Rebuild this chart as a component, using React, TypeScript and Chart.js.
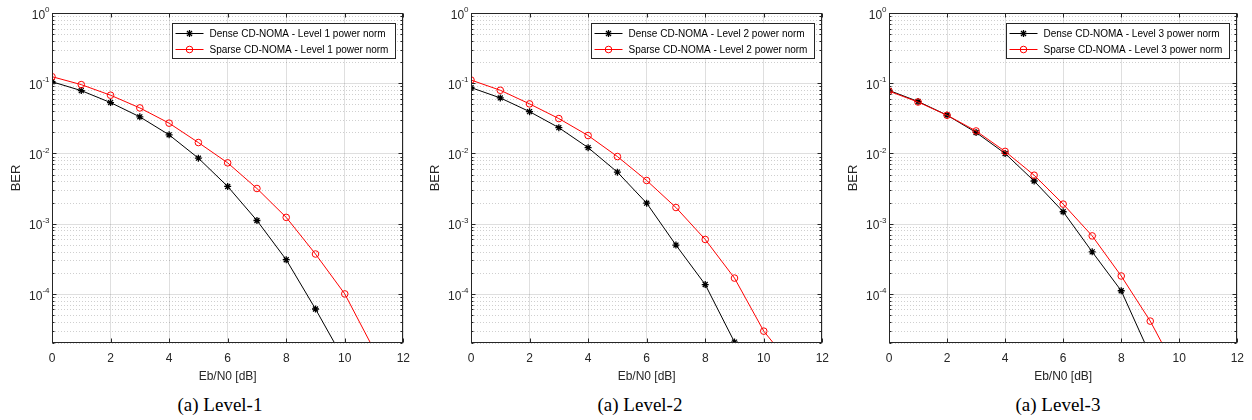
import React, { useEffect, useRef } from 'react';
import { Chart, registerables } from 'chart.js';

Chart.register(...registerables);

// ---------- data ----------
const EBN0 = [0, 1, 2, 3, 4, 5, 6, 7, 8, 9, 10, 11];

const DENSE_L1 = [0.105, 0.0785, 0.053, 0.0332, 0.0184, 0.00857, 0.00339, 0.00111, 3.07e-4, 6.1e-5, 1.1e-5];
const SPARSE_L1 = [0.124, 0.0955, 0.0675, 0.0445, 0.027, 0.0143, 0.00735, 0.00317, 0.00123, 3.7e-4, 1.0e-4, 1.6e-5];

const DENSE_L2 = [0.0867, 0.0618, 0.0394, 0.0233, 0.0121, 0.00542, 0.00196, 4.96e-4, 1.36e-4, 2.06e-5];
const SPARSE_L2 = [0.111, 0.0794, 0.0508, 0.0314, 0.018, 0.00904, 0.00412, 0.0017, 5.96e-4, 1.68e-4, 2.95e-5, 9e-6];

const DENSE_L3 = [0.079, 0.055, 0.0351, 0.0199, 0.01, 0.00405, 0.00148, 3.97e-4, 1.11e-4, 1.35e-5];
const SPARSE_L3 = [0.077, 0.054, 0.035, 0.0209, 0.0107, 0.0049, 0.0019, 6.7e-4, 1.8e-4, 4.1e-5, 6.9e-6];

const X_TICKS = [0, 2, 4, 6, 8, 10, 12];
const X_MIN = 0;
const X_MAX = 12;
const Y_MIN = 2e-5;
const Y_MAX = 1;

const LEVELS = [1, 2, 3];
const DENSE_SERIES = [DENSE_L1, DENSE_L2, DENSE_L3];
const SPARSE_SERIES = [SPARSE_L1, SPARSE_L2, SPARSE_L3];
const CAPTIONS = ['(a) Level-1', '(a) Level-2', '(a) Level-3'];
const X_TITLE = 'Eb/N0 [dB]';
const Y_TITLE = 'BER';

// ---------- styles ----------
const SANS = '"Liberation Sans", Arial, Helvetica, sans-serif';
const SERIF = '"Liberation Serif", "Times New Roman", Times, serif';
const AXIS = '#262626';
const GRID_MAJOR = 'rgba(38,38,38,0.15)';
const GRID_MINOR = 'rgba(38,38,38,0.22)';
const RED = '#ff0000';
const BLACK = '#000000';

function drawStar(ctx: CanvasRenderingContext2D, x: number, y: number, r: number) {
  for (const deg of [0, 45, 90, 135]) {
    const a = (deg * Math.PI) / 180;
    const dx = Math.cos(a) * r;
    const dy = Math.sin(a) * r;
    ctx.beginPath();
    ctx.moveTo(x - dx, y - dy);
    ctx.lineTo(x + dx, y + dy);
    ctx.stroke();
  }
}

function decadeRange() {
  return [Math.floor(Math.log10(Y_MIN)), Math.ceil(Math.log10(Y_MAX))];
}

const framePlugin = {
  id: 'matlabFrame',
  beforeDatasetsDraw(chart: any) {
    const { ctx, chartArea: a, scales } = chart;
    const ys = scales.y;
    const [e0, e1] = decadeRange();
    ctx.save();
    ctx.lineWidth = 1;
    for (let e = e0; e <= e1; e++) {
      for (let k = 1; k <= 9; k++) {
        const v = k * Math.pow(10, e);
        if (v < Y_MIN * 0.9999 || v > Y_MAX * 1.0001) continue;
        const py = Math.round(ys.getPixelForValue(v)) + 0.5;
        ctx.beginPath();
        if (k === 1) {
          ctx.setLineDash([]);
          ctx.strokeStyle = GRID_MAJOR;
        } else {
          ctx.setLineDash([1, 2]);
          ctx.strokeStyle = GRID_MINOR;
        }
        ctx.moveTo(a.left, py);
        ctx.lineTo(a.right, py);
        ctx.stroke();
      }
    }
    ctx.restore();
  },
  afterDraw(chart: any) {
    const { ctx, chartArea: a, scales } = chart;
    const ys = scales.y;
    const xs = scales.x;
    const [e0, e1] = decadeRange();
    ctx.save();
    ctx.setLineDash([]);
    ctx.strokeStyle = AXIS;
    ctx.lineWidth = 1;
    const L = Math.round(a.left) + 0.5;
    const R = Math.round(a.right) - 0.5;
    const T = Math.round(a.top) + 0.5;
    const B = Math.round(a.bottom) - 0.5;
    ctx.strokeRect(L, T, R - L, B - T);

    // y ticks (inward, both sides)
    for (let e = e0; e <= e1; e++) {
      for (let k = 1; k <= 9; k++) {
        const v = k * Math.pow(10, e);
        if (v < Y_MIN * 0.9999 || v > Y_MAX * 1.0001) continue;
        const py = Math.round(ys.getPixelForValue(v)) + 0.5;
        const len = k === 1 ? 4 : 2;
        ctx.beginPath();
        ctx.moveTo(L, py);
        ctx.lineTo(L + len, py);
        ctx.moveTo(R, py);
        ctx.lineTo(R - len, py);
        ctx.stroke();
      }
    }
    // x ticks (inward, top & bottom)
    for (const t of X_TICKS) {
      const px = Math.round(xs.getPixelForValue(t)) + 0.5;
      ctx.beginPath();
      ctx.moveTo(px, B);
      ctx.lineTo(px, B - 4);
      ctx.moveTo(px, T);
      ctx.lineTo(px, T + 4);
      ctx.stroke();
    }

    // y tick labels 10^e
    ctx.fillStyle = AXIS;
    ctx.textBaseline = 'middle';
    for (let e = e0; e <= e1; e++) {
      const v = Math.pow(10, e);
      if (v < Y_MIN * 0.9999 || v > Y_MAX * 1.0001) continue;
      const py = ys.getPixelForValue(v);
      const exp = String(e);
      ctx.font = `8px ${SANS}`;
      const wExp = ctx.measureText(exp).width;
      const xr = a.left - 2.5;
      ctx.textAlign = 'left';
      ctx.fillText(exp, xr - wExp, py - 3);
      ctx.font = `12px ${SANS}`;
      ctx.textAlign = 'right';
      ctx.fillText('10', xr - wExp, py + 2.5);
    }

    // legend
    const ds = chart.data.datasets;
    ctx.font = `10px ${SANS}`;
    let tw = 0;
    for (const d of ds) tw = Math.max(tw, ctx.measureText(d.label).width);
    const boxW = Math.round(3 + 28 + 6 + tw + 7);
    const boxH = 35;
    const bx = Math.round(a.right - 8.5 - boxW) + 0.5;
    const by = Math.round(a.top + 10) + 0.5;
    ctx.fillStyle = '#ffffff';
    ctx.fillRect(bx, by, boxW, boxH);
    ctx.strokeStyle = AXIS;
    ctx.strokeRect(bx, by, boxW, boxH);
    ds.forEach((d: any, i: number) => {
      const ry = by + 10 + i * 16;
      ctx.strokeStyle = d.borderColor;
      ctx.lineWidth = 1;
      ctx.beginPath();
      ctx.moveTo(bx + 3, ry);
      ctx.lineTo(bx + 31, ry);
      ctx.stroke();
      const mx = bx + 17;
      if (d.pointStyle === 'star') {
        ctx.lineWidth = 1.3;
        drawStar(ctx, mx, ry, 3.5);
      } else {
        ctx.beginPath();
        ctx.arc(mx, ry, 3.3, 0, Math.PI * 2);
        ctx.stroke();
      }
      ctx.fillStyle = '#000000';
      ctx.textAlign = 'left';
      ctx.textBaseline = 'middle';
      ctx.fillText(d.label, bx + 37, ry + 0.5);
    });
    ctx.restore();
  },
};

type PanelProps = {
  level: number;
  dense: number[];
  sparse: number[];
  left: number;
  width: number;
  padRight: number;
};

function Panel({ level, dense, sparse, left, width, padRight }: PanelProps) {
  const ref = useRef<HTMLCanvasElement>(null);
  useEffect(() => {
    const canvas = ref.current;
    if (!canvas) return;
    const chart = new Chart(canvas, {
      type: 'line',
      data: {
        datasets: [
          {
            label: `Dense CD-NOMA - Level ${level} power norm`,
            data: dense.map((y, i) => ({ x: EBN0[i], y })),
            borderColor: BLACK,
            backgroundColor: BLACK,
            borderWidth: 1,
            pointStyle: 'star',
            pointRadius: 3.5,
            pointBorderWidth: 1.3,
            pointBorderColor: BLACK,
            pointBackgroundColor: BLACK,
            tension: 0,
            order: 1,
          },
          {
            label: `Sparse CD-NOMA - Level ${level} power norm`,
            data: sparse.map((y, i) => ({ x: EBN0[i], y })),
            borderColor: RED,
            backgroundColor: 'rgba(0,0,0,0)',
            borderWidth: 1,
            pointStyle: 'circle',
            pointRadius: 3.3,
            pointBorderWidth: 1,
            pointBorderColor: RED,
            pointBackgroundColor: 'rgba(0,0,0,0)',
            tension: 0,
            order: 0,
          },
        ],
      } as any,
      options: {
        animation: false,
        responsive: false,
        devicePixelRatio: 1,
        layout: { padding: { top: 13, left: 0, right: padRight, bottom: 2 } },
        plugins: { legend: { display: false }, tooltip: { enabled: false } },
        scales: {
          x: {
            type: 'linear',
            min: X_MIN,
            max: X_MAX,
            ticks: {
              stepSize: 2,
              color: AXIS,
              font: { family: SANS, size: 12 },
              padding: 8,
              maxRotation: 0,
            },
            grid: { color: GRID_MAJOR, drawTicks: false },
            border: { display: false },
            title: {
              display: true,
              text: X_TITLE,
              color: AXIS,
              font: { family: SANS, size: 12 },
              padding: { top: 0, bottom: 4 },
            },
            afterFit: (s: any) => {
              s.height = 45;
            },
          },
          y: {
            type: 'logarithmic',
            min: Y_MIN,
            max: Y_MAX,
            ticks: { display: false },
            grid: { display: false },
            border: { display: false },
            title: {
              display: true,
              text: Y_TITLE,
              color: AXIS,
              font: { family: SANS, size: 13 },
              padding: { top: 9, bottom: 0 },
            },
            afterFit: (s: any) => {
              s.width = 52;
            },
          },
        },
      } as any,
      plugins: [framePlugin as any],
    });
    return () => chart.destroy();
  }, [level, dense, sparse, padRight]);

  return (
    <div style={{ position: 'absolute', left, top: 0, width, height: 390 }}>
      <canvas ref={ref} width={width} height={390} style={{ width, height: 390, display: 'block' }} />
    </div>
  );
}

const PANEL_LEFT = [0, 419, 837];
const PANEL_WIDTH = [418, 418, 415];
const PANEL_PAD_RIGHT = [11, 11, 8];
const CAPTION_CENTER = [220, 640, 1058];

export default function App() {
  return (
    <div
      style={{
        position: 'fixed',
        left: 0,
        top: 0,
        width: 1252,
        height: 420,
        background: '#ffffff',
        overflow: 'hidden',
      }}
    >
      {LEVELS.map((lv, i) => (
        <Panel
          key={lv}
          level={lv}
          dense={DENSE_SERIES[i]}
          sparse={SPARSE_SERIES[i]}
          left={PANEL_LEFT[i]}
          width={PANEL_WIDTH[i]}
          padRight={PANEL_PAD_RIGHT[i]}
        />
      ))}
      {CAPTIONS.map((c, i) => (
        <div
          key={c}
          style={{
            position: 'absolute',
            left: CAPTION_CENTER[i] - 100,
            top: 395,
            width: 200,
            height: 19,
            textAlign: 'center',
            fontFamily: SERIF,
            fontSize: 19,
            lineHeight: '19px',
            color: '#000000',
            whiteSpace: 'nowrap',
          }}
        >
          {c}
        </div>
      ))}
    </div>
  );
}
